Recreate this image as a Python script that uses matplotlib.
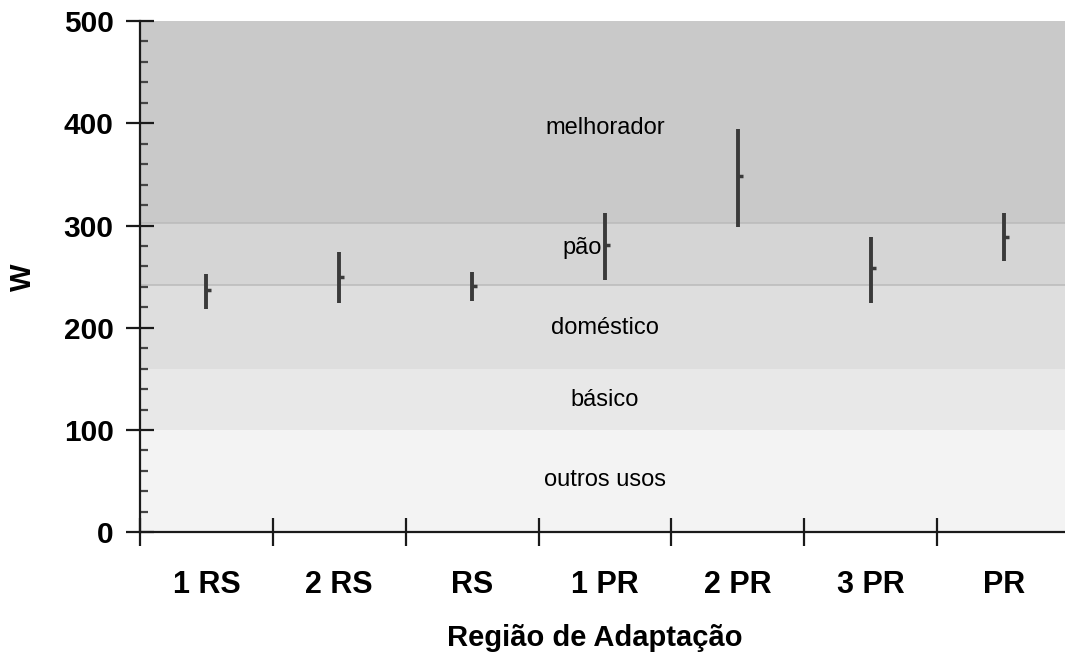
import matplotlib
matplotlib.use("Agg")
import matplotlib.pyplot as plt
from matplotlib.ticker import MultipleLocator, FixedLocator, NullFormatter

plt.rcParams['font.family'] = ['Liberation Sans', 'DejaVu Sans']

categories = ["1 RS", "2 RS", "RS", "1 PR", "2 PR", "3 PR", "PR"]
w_min = [218, 224, 226, 247, 299, 224, 265]
w_max = [253, 274, 255, 312, 394, 289, 312]
w_mean = [237, 250, 241, 281, 348, 258, 289]

band_edges = [0, 100, 160, 242, 302, 500]
band_names = ["outros usos", "básico", "doméstico", "pão", "melhorador"]
band_label_y = [51, 129, 200, 278, 395]
band_colors = ["#f3f3f3", "#e8e8e8", "#dedede", "#d5d5d5", "#c9c9c9"]
band_label_x = [3.5, 3.5, 3.5, 3.33, 3.5]

fig = plt.figure(figsize=(10.65, 6.57), dpi=100)
W, H = 1065, 657
x0, x1 = 140, 1070
y0, y1 = 532.3, 21
ax = fig.add_axes([x0 / W, (H - y0) / H, (x1 - x0) / W, (y0 - y1) / H])

n = len(categories)
ax.set_xlim(0, n)
ax.set_ylim(0, 500)

for i in range(len(band_names)):
    ax.axhspan(band_edges[i], band_edges[i + 1], color=band_colors[i], lw=0, zorder=0)
for e in band_edges[3:5]:
    ax.axhline(e, color="#bababa", lw=1.1, zorder=1)
for name, yy, xx in zip(band_names, band_label_y, band_label_x):
    ax.text(xx, yy, name, ha="center", va="center", fontsize=17, color="black", zorder=2)

xs = [i + 0.5 for i in range(n)]
ax.vlines(xs, w_min, w_max, color="#3a3a3a", lw=2.8, zorder=3)
ax.hlines(w_mean, [x for x in xs], [x + 0.038 for x in xs], color="#3a3a3a", lw=2.5, zorder=3)

for s in ["top", "right"]:
    ax.spines[s].set_visible(False)
for s in ["left", "bottom"]:
    ax.spines[s].set_linewidth(1.6)
    ax.spines[s].set_color("#1a1a1a")

ax.yaxis.set_major_locator(MultipleLocator(100))
ax.yaxis.set_minor_locator(MultipleLocator(20))
ax.tick_params(axis="y", which="major", direction="inout", length=20, width=1.6,
               color="#1a1a1a", pad=9, labelsize=21.5)
ax.tick_params(axis="y", which="minor", direction="in", length=6, width=1.6, color="#444444")
for lab in ax.get_yticklabels():
    lab.set_fontweight("bold")

ax.xaxis.set_major_locator(FixedLocator(list(range(n + 1))))
ax.xaxis.set_major_formatter(NullFormatter())
ax.xaxis.set_minor_locator(FixedLocator(xs))
ax.set_xticklabels(categories, minor=True, fontsize=22, fontweight="bold")
ax.tick_params(axis="x", which="major", direction="inout", length=20, width=1.6, color="#1a1a1a")
ax.tick_params(axis="x", which="minor", length=0, pad=27)

fig.text(595 / W, 1 - 638 / H, "Região de Adaptação", ha="center", va="center",
         fontsize=21, fontweight="bold")
fig.text(23 / W, 1 - 277 / H, "W", ha="center", va="center", rotation=90,
         fontsize=21, fontweight="bold")

fig.savefig("out.png", dpi=100)
